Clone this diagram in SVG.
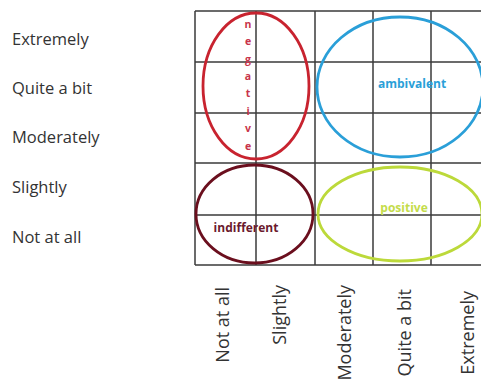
<svg xmlns="http://www.w3.org/2000/svg" width="481" height="381" viewBox="0 0 481 381">
<style>
.lbl{font-family:"Open Sans","Liberation Sans",sans-serif;font-size:16.5px;fill:#333}
.rot{font-family:"Open Sans","Liberation Sans",sans-serif;font-size:18px;fill:#333}
.grid line{stroke:#3a3a3a;stroke-width:1.5}
.oval{fill:none;stroke-width:2.8}
.in{font-family:"Open Sans","Liberation Sans",sans-serif;font-size:12px;font-weight:bold}
</style>
<rect width="481" height="381" fill="#fff"/>
<g id="y-labels" class="lbl">
<text x="12" y="45">Extremely</text>
<text x="12" y="94">Quite a bit</text>
<text x="12" y="143">Moderately</text>
<text x="12" y="193">Slightly</text>
<text x="12" y="243">Not at all</text>
</g>
<g id="grid" class="grid">
<line x1="195" y1="11" x2="195" y2="265"/>
<line x1="256" y1="11" x2="256" y2="265"/>
<line x1="315" y1="11" x2="315" y2="265"/>
<line x1="373" y1="11" x2="373" y2="265"/>
<line x1="431" y1="11" x2="431" y2="265"/>
<line x1="195" y1="11" x2="481" y2="11"/>
<line x1="195" y1="62" x2="481" y2="62"/>
<line x1="195" y1="113" x2="481" y2="113"/>
<line x1="195" y1="163" x2="481" y2="163"/>
<line x1="195" y1="215" x2="481" y2="215"/>
<line x1="195" y1="265" x2="481" y2="265"/>
</g>
<g id="negative">
<ellipse class="oval" cx="256" cy="86" rx="53" ry="73" stroke="#c8232f"/>
<g class="in" fill="#c8344a" text-anchor="middle" style="font-size:10.5px">
<text x="248" y="28">n</text>
<text x="248" y="45">e</text>
<text x="248" y="63">g</text>
<text x="248" y="80">a</text>
<text x="248" y="97">t</text>
<text x="248" y="115">i</text>
<text x="248" y="132">v</text>
<text x="248" y="150">e</text>
</g>
</g>
<g id="ambivalent">
<ellipse class="oval" cx="400" cy="87" rx="83" ry="70" stroke="#2a9fd8"/>
<text class="in" x="412" y="88" text-anchor="middle" fill="#2a9fd8">ambivalent</text>
</g>
<g id="indifferent">
<ellipse class="oval" cx="254.5" cy="214" rx="58.5" ry="49" stroke="#6b0f1e"/>
<text class="in" x="246" y="232" text-anchor="middle" fill="#6b1a2e">indifferent</text>
</g>
<g id="positive">
<ellipse class="oval" cx="400" cy="214" rx="82" ry="47" stroke="#bcd93a"/>
<text class="in" x="404" y="212" text-anchor="middle" fill="#c4dc4a">positive</text>
</g>
<g id="x-labels" class="rot" text-anchor="end">
<text transform="translate(229,287) rotate(-90)">Not at all</text>
<text transform="translate(286,285) rotate(-90)">Slightly</text>
<text transform="translate(351,285) rotate(-90)">Moderately</text>
<text transform="translate(411,289) rotate(-90)">Quite a bit</text>
<text transform="translate(474,291) rotate(-90)">Extremely</text>
</g>
</svg>
